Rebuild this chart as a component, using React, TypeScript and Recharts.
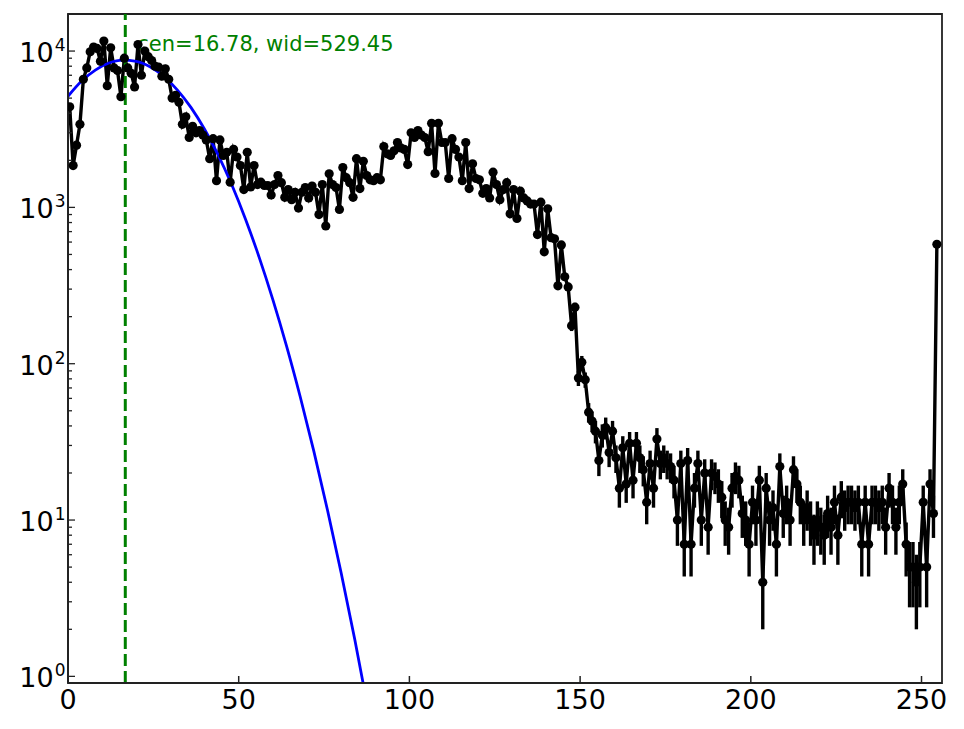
import React from 'react';
import { LineChart, Line, XAxis, YAxis, ErrorBar, ReferenceLine, ReferenceArea } from 'recharts';

// counts per bin (bin centres at i + 0.5)
const counts = [
  4400, 1850, 2500, 3400, 6600, 7800, 9900, 10600, 10400, 8600,
  11600, 6000, 10500, 7800, 7500, 5100, 9000, 7800, 7200, 5900,
  11000, 7000, 10000, 9200, 8700, 8000, 7900, 6900, 7700, 6600,
  5000, 5200, 4700, 3400, 3800, 2800, 3300, 3000, 3100, 2900,
  2700, 2050, 2750, 1480, 2700, 2150, 2250, 1450, 2350, 2100,
  1850, 1300, 2250, 1350, 1850, 1400, 1450, 1380, 1380, 1200,
  1400, 1600, 1440, 1160, 1300, 1120, 1250, 990, 1250, 1340,
  1150, 1370, 1250, 900, 1400, 760, 1640, 1400, 1340, 970,
  1800, 1550, 1440, 1160, 2050, 1320, 1970, 1600, 1500, 1480,
  1550, 1500, 2450, 2200, 2150, 2300, 2600, 2400, 2350, 1880,
  3000, 2800, 3100, 2900, 2800, 2270, 3450, 1650, 3450, 2600,
  2600, 1530, 2750, 2350, 2100, 1480, 2600, 1320, 1900, 1530,
  1500, 1230, 1320, 1150, 1680, 1400, 1120, 1300, 1440, 910,
  1300, 850, 1270, 1150, 1100, 1050, 1050, 670, 1080, 520,
  980, 640, 630, 315, 575, 360, 310, 175, 230, 81,
  102, 79, 49, 43, 37, 24, 35, 39, 27, 37,
  25, 16, 29, 17, 31, 18, 31, 25, 21, 13,
  23, 16, 33, 23, 25, 23, 22, 18, 10, 23,
  7, 24, 7, 16, 23, 10, 20, 9, 20, 19,
  17, 14, 10, 9, 16, 19, 18, 11, 10, 7,
  13, 10, 18, 4, 16, 10, 12, 7, 22, 11,
  13, 10, 21, 17, 13, 10, 12, 10, 8, 10,
  9, 8, 11, 9, 13, 8, 14, 12, 13, 13,
  12, 13, 7, 13, 7, 13, 13, 12, 13, 9,
  16, 13, 9, 13, 17, 7, 5, 5, 4, 5,
  13, 5, 17, 11, 580,
];

// gaussian fit curve, sampled off the plot
const fitX = [0, 4, 8, 12, 16, 20, 24, 28, 32, 36, 40, 44, 48, 52, 56, 60, 64, 68, 72, 76, 80, 84, 88];
const fitY = [5140, 6430, 7560, 8380, 8740, 8580, 7930, 6900, 5650, 4360, 3160, 2160, 1390, 840, 479, 257, 130, 61.7, 27.6, 11.6, 4.6, 1.72, 0.6];

const cen = 16.78;
const wid = 529.45;

const xDomain = [0, 256];
const yDomain = [0.907, 17260];
const xTicks = [0, 50, 100, 150, 200, 250];
const majorY = [1, 10, 100, 1000, 10000];
const minorMult = [1, 2, 3, 4, 5, 6, 7, 8, 9];
const yTicks = majorY.flatMap((t) => (t === 10000 ? [t] : minorMult.map((m) => m * t)));

const data = counts.map((c, i) => ({ x: i + 0.5, y: c, err: Math.sqrt(c) }));
const fitData = fitX.map((x, i) => ({ x, fit: fitY[i] }));

const FONT = 'DejaVu Sans';
const AX = '#222';

const XTick = (props: any) => {
  const { x, y, payload } = props;
  return (
    <g>
      <line x1={x} x2={x} y1={y} y2={y - 7} stroke={AX} strokeWidth={1.5} />
      <text x={x} y={y + 26} textAnchor="middle" fontSize={27} fontFamily={FONT} fill="#000">
        {payload.value}
      </text>
    </g>
  );
};

const YTick = (props: any) => {
  const { x, y, payload } = props;
  const v = payload.value;
  const major = majorY.includes(v);
  return (
    <g>
      <line x1={x} x2={x + (major ? 7 : 4)} y1={y} y2={y} stroke={AX} strokeWidth={1.3} />
      {major && (
        <text x={x - 2.5} y={y + 11} textAnchor="end" fontSize={27} fontFamily={FONT} fill="#000">
          10
          <tspan dx={1} dy={-11} fontSize={17}>
            {Math.round(Math.log10(v))}
          </tspan>
        </text>
      )}
    </g>
  );
};

const CenLabel = (props: any) => {
  const vb = props.viewBox || { x: 0, y: 0 };
  return (
    <text x={vb.x + 12} y={vb.y + 37} fill="#008000" fontSize={21} fontFamily={FONT}>
      {`cen=${cen}, wid=${wid}`}
    </text>
  );
};

export default function App() {
  return (
    <div style={{ width: 948, height: 713 }}>
      <LineChart width={948} height={713} data={data} margin={{ top: 6, right: 14, bottom: 0, left: 0 }}>
        <XAxis
          dataKey="x"
          type="number"
          domain={xDomain}
          ticks={xTicks}
          allowDataOverflow
          height={38}
          tickSize={0}
          tickMargin={0}
          tickLine={false}
          axisLine={{ stroke: AX, strokeWidth: 1.8 }}
          tick={<XTick />}
        />
        <YAxis
          type="number"
          scale="log"
          domain={yDomain}
          allowDataOverflow
          ticks={yTicks}
          interval={0}
          width={60}
          tickSize={0}
          tickMargin={0}
          tickLine={false}
          axisLine={{ stroke: AX, strokeWidth: 1.8 }}
          tick={<YTick />}
        />
        <Line
          dataKey="y"
          type="linear"
          stroke="#000"
          strokeWidth={3.4}
          dot={{ r: 4.6, fill: '#000', stroke: '#000', strokeWidth: 0 }}
          activeDot={false}
          isAnimationActive={false}
        >
          <ErrorBar dataKey="err" direction="y" width={0} stroke="#000" strokeWidth={3.4} isAnimationActive={false} />
        </Line>
        <Line
          data={fitData}
          dataKey="fit"
          type="monotone"
          stroke="#0000ff"
          strokeWidth={2.8}
          dot={false}
          activeDot={false}
          isAnimationActive={false}
        />
        <ReferenceLine
          x={cen}
          stroke="#008000"
          strokeWidth={3}
          strokeDasharray="12 5"
          label={(p: any) => <CenLabel {...p} />}
        />
        <ReferenceArea
          x1={xDomain[0]}
          x2={xDomain[1]}
          y1={yDomain[0]}
          y2={yDomain[1]}
          fill="none"
          fillOpacity={0}
          stroke={AX}
          strokeWidth={1.8}
          ifOverflow="visible"
        />
      </LineChart>
    </div>
  );
}
